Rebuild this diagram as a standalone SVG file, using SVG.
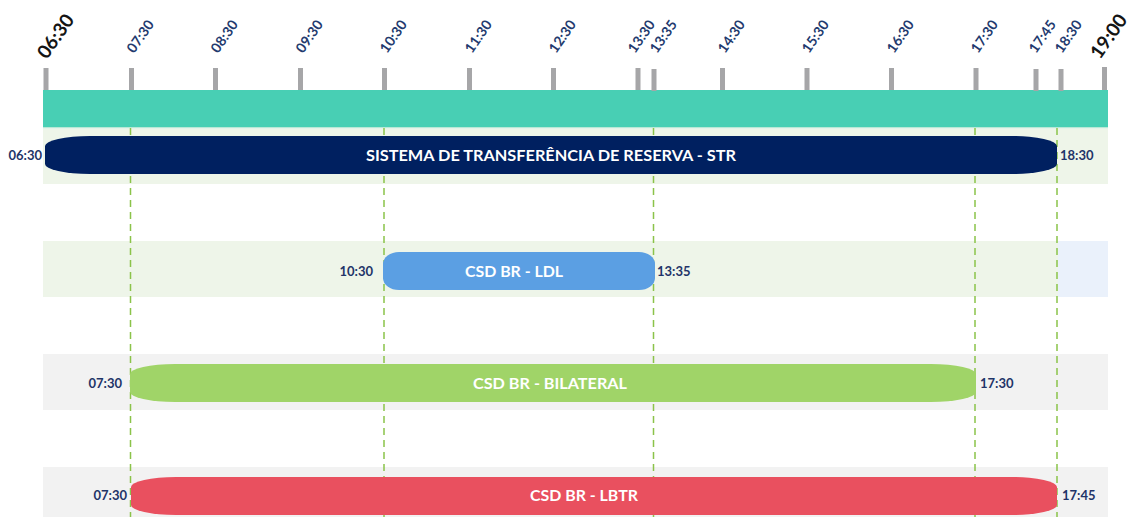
<svg xmlns="http://www.w3.org/2000/svg" width="1133" height="517" viewBox="0 0 1133 517">
<style>
.tick{fill:#A6A6A8}
.tl{font-family:Lato,"Open Sans",sans-serif;font-weight:700;font-size:14px;fill:#233A6E}
.tlb{font-family:Lato,"Open Sans",sans-serif;font-weight:700;font-size:19px;fill:#141414}
.rl{font-family:Lato,"Open Sans",sans-serif;font-weight:700;font-size:13px;fill:#1F3468}
.bl{font-family:Lato,"Open Sans",sans-serif;font-weight:700;font-size:15.5px;fill:#FFFFFF;text-anchor:middle}
.dash{stroke:#8BC34A;stroke-width:1.5;stroke-dasharray:7 5;fill:none}
</style>
<rect width="1133" height="517" fill="#FFFFFF"/>
<g id="axis">
<rect x="43" y="90" width="1065" height="37" fill="#48CFB4"/>
<rect x="43" y="127" width="1065" height="1.5" fill="#B8E8D6"/>
<rect class="tick" x="43.5" y="68" width="5" height="22"/>
<rect class="tick" x="129" y="68" width="5" height="22"/>
<rect class="tick" x="213" y="68" width="5" height="22"/>
<rect class="tick" x="298" y="68" width="5" height="22"/>
<rect class="tick" x="382" y="68" width="5" height="22"/>
<rect class="tick" x="467" y="68" width="5" height="22"/>
<rect class="tick" x="551" y="68" width="5" height="22"/>
<rect class="tick" x="635.5" y="68" width="5" height="22"/>
<rect class="tick" x="651.5" y="69" width="5" height="22"/>
<rect class="tick" x="720" y="68" width="5" height="22"/>
<rect class="tick" x="804.5" y="68" width="5" height="22"/>
<rect class="tick" x="889" y="68" width="5" height="22"/>
<rect class="tick" x="973.5" y="68" width="5" height="22"/>
<rect class="tick" x="1033.5" y="69" width="5" height="22"/>
<rect class="tick" x="1058.5" y="69" width="5" height="22"/>
<rect class="tick" x="1102" y="67" width="5" height="23"/>
<text class="tlb" transform="translate(47,60) rotate(-55)">06:30</text>
<text class="tl" transform="translate(134,54) rotate(-55)">07:30</text>
<text class="tl" transform="translate(218,54) rotate(-55)">08:30</text>
<text class="tl" transform="translate(303,54) rotate(-55)">09:30</text>
<text class="tl" transform="translate(387,54) rotate(-55)">10:30</text>
<text class="tl" transform="translate(472,54) rotate(-55)">11:30</text>
<text class="tl" transform="translate(556,54) rotate(-55)">12:30</text>
<text class="tl" transform="translate(635,54) rotate(-55)">13:30</text>
<text class="tl" transform="translate(657,54) rotate(-55)">13:35</text>
<text class="tl" transform="translate(725,54) rotate(-55)">14:30</text>
<text class="tl" transform="translate(809,54) rotate(-55)">15:30</text>
<text class="tl" transform="translate(894,54) rotate(-55)">16:30</text>
<text class="tl" transform="translate(978,54) rotate(-55)">17:30</text>
<text class="tl" transform="translate(1036,54) rotate(-55)">17:45</text>
<text class="tl" transform="translate(1062,54) rotate(-55)">18:30</text>
<text class="tlb" transform="translate(1100,60) rotate(-55)">19:00</text>
</g>
<g id="rows">
<rect x="43" y="128.5" width="1065" height="55.5" fill="#EEF5E9"/>
<rect x="43" y="241" width="1015" height="56" fill="#EEF5E9"/>
<rect x="1058" y="241" width="50" height="56" fill="#EAF1FB"/>
<rect x="43" y="354" width="1065" height="56" fill="#F2F2F2"/>
<rect x="43" y="467" width="1065" height="50" fill="#F2F2F2"/>
</g>
<g id="connectors">
<line class="dash" x1="130.5" y1="128" x2="130.5" y2="517"/>
<line class="dash" x1="384" y1="128" x2="384" y2="517"/>
<line class="dash" x1="653.5" y1="128" x2="653.5" y2="517"/>
<line class="dash" x1="975" y1="128" x2="975" y2="517"/>
<line class="dash" x1="1057" y1="128" x2="1057" y2="517"/>
</g>
<g id="str">
<rect x="45" y="136" width="1012" height="38" rx="45" ry="10" fill="#002060"/>
<text class="bl" x="551" y="161" textLength="370" lengthAdjust="spacingAndGlyphs">SISTEMA DE TRANSFERÊNCIA DE RESERVA - STR</text>
<text class="rl" x="42" y="160" text-anchor="end">06:30</text>
<text class="rl" x="1060" y="160">18:30</text>
</g>
<g id="ldl">
<rect x="383" y="252" width="272" height="38" rx="16" ry="12" fill="#5B9FE3"/>
<text class="bl" x="514" y="277" textLength="98" lengthAdjust="spacingAndGlyphs">CSD BR - LDL</text>
<text class="rl" x="373" y="276" text-anchor="end">10:30</text>
<text class="rl" x="657" y="276">13:35</text>
</g>
<g id="bilateral">
<rect x="130" y="364" width="846" height="38" rx="45" ry="10" fill="#A0D468"/>
<text class="bl" x="550" y="389" textLength="154" lengthAdjust="spacingAndGlyphs">CSD BR - BILATERAL</text>
<text class="rl" x="122" y="388" text-anchor="end">07:30</text>
<text class="rl" x="980" y="388">17:30</text>
</g>
<g id="lbtr">
<rect x="131" y="477" width="926" height="38" rx="45" ry="10" fill="#E9505F"/>
<text class="bl" x="584" y="501" textLength="108" lengthAdjust="spacingAndGlyphs">CSD BR - LBTR</text>
<text class="rl" x="127" y="500" text-anchor="end">07:30</text>
<text class="rl" x="1062" y="500">17:45</text>
</g>
</svg>
